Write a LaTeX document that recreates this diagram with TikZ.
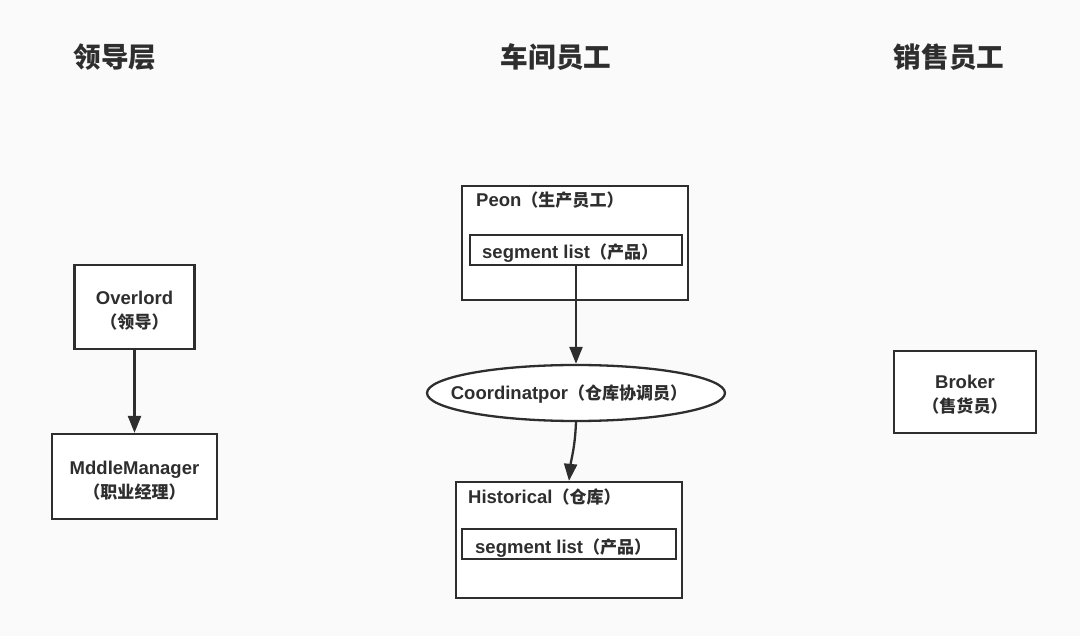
\documentclass[tikz,border=0pt]{standalone}
\usepackage{fontspec}
\setmainfont{Liberation Sans}
\newfontfamily\cjk[Scale=0.92]{Noto Sans CJK SC}
\usetikzlibrary{arrows.meta,shapes.geometric}
\definecolor{ink}{HTML}{2E2E2E}
\definecolor{bg}{HTML}{FAFAFA}
\begin{document}
\begin{tikzpicture}[x=1pt,y=-1pt,
  box/.style={draw=ink,line width=2.3pt,fill=white,inner sep=0pt,rectangle},
  lbl/.style={text=ink,font=\fontsize{18.5}{24}\selectfont\bfseries,align=center,inner sep=0pt},
  ttl/.style={text=ink,font=\cjk\fontsize{30}{32}\selectfont\bfseries,inner sep=0pt},
  arr/.style={draw=ink,line width=2.3pt,-{Triangle[length=17pt,width=13pt]}}]
\fill[bg] (0,0) rectangle (1080,636);
\useasboundingbox (0,0) rectangle (1080,636);
% titles
\node[ttl] (t1) at (115,57) {领导层};
\node[ttl] (t2) at (556,57) {车间员工};
\node[ttl] (t3) at (949,57) {销售员工};
% left column
\node[box,minimum width=120,minimum height=84] (over) at (134.5,307) {};
\node[lbl] (overt) at (134.5,310.5) {Overlord\\{\cjk （领导）}};
\node[box,minimum width=165,minimum height=85] (mid) at (134.5,476.5) {};
\node[lbl] (midt) at (134.5,481) {MddleManager\\{\cjk （职业经理）}};
\draw[arr] (over.south) -- (mid.north);
% middle column
\node[box,minimum width=226,minimum height=114] (peon) at (575,243) {};
\node[lbl,anchor=west] (peont) at (476,200) {Peon{\cjk （生产员工）}};
\node[box,minimum width=212,minimum height=30] (seg1) at (576,250) {};
\node[lbl,anchor=west] (seg1t) at (482,253) {segment list{\cjk （产品）}};
\node[draw=ink,line width=2.3pt,fill=white,ellipse,inner sep=0pt,minimum width=298,minimum height=56] (coord) at (576,393) {};
\node[lbl] (coordt) at (569,394) {Coordinatpor{\cjk （仓库协调员）}};
\draw[arr] (seg1.south) -- (coord.north);
\node[box,minimum width=226,minimum height=116] (hist) at (569,540) {};
\node[lbl,anchor=west] (histt) at (468,497) {Historical{\cjk （仓库）}};
\node[box,minimum width=214,minimum height=30] (seg2) at (569,544) {};
\node[lbl,anchor=west] (seg2t) at (475,548) {segment list{\cjk （产品）}};
\draw[arr] (coord.south) .. controls (575,448) and (571,460) .. (hist.north);
% right column
\node[box,minimum width=142,minimum height=82] (broker) at (965,392) {};
\node[lbl] (brokert) at (965,394.5) {Broker\\{\cjk （售货员）}};
\end{tikzpicture}
\end{document}
